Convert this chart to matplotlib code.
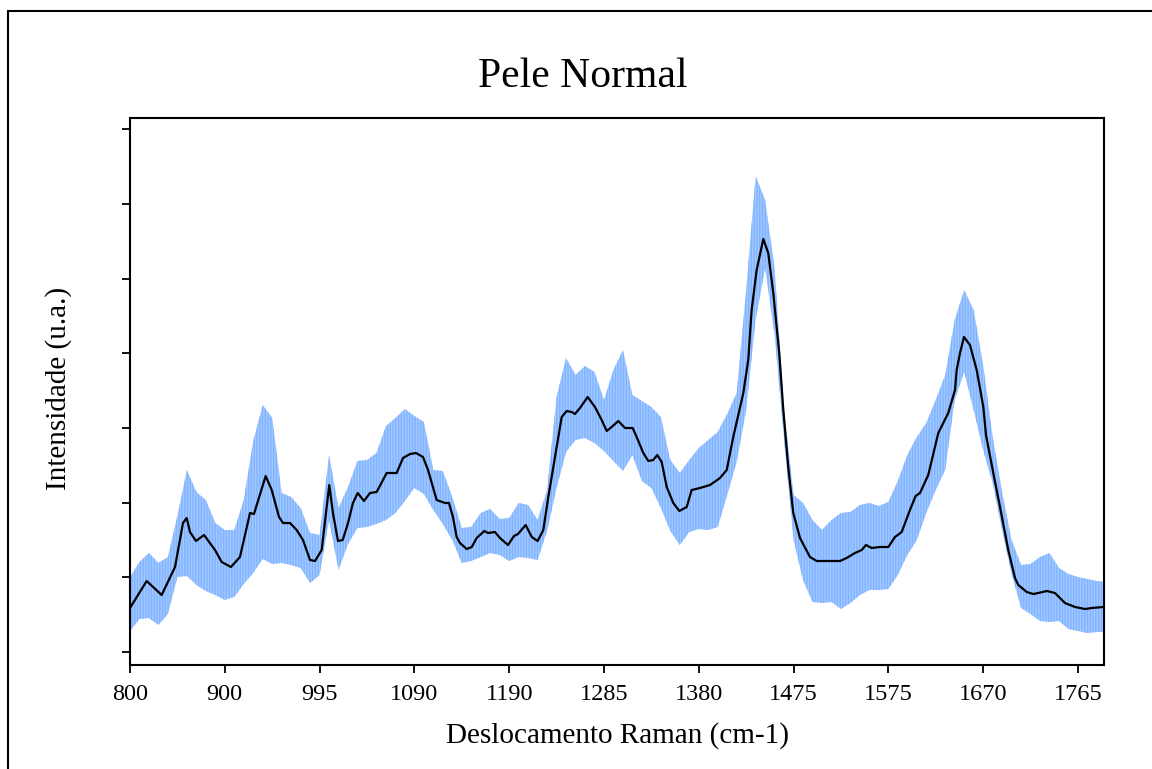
import numpy as np
import matplotlib
matplotlib.use("Agg")
from matplotlib import pyplot as plt
from matplotlib.patches import Rectangle

plt.rcParams["font.family"] = ["Liberation Serif", "DejaVu Serif"]
plt.rcParams["hatch.linewidth"] = 1.0

# x is the spectrum position along the axis; labels are the Raman shifts printed under the ticks
tick_pos = [800, 900, 1000, 1100, 1200, 1300, 1400, 1500, 1600, 1700, 1800]
tick_labels = ["800", "900", "995", "1090", "1190", "1285", "1380", "1475", "1575", "1670", "1765"]

# mean spectrum (black line)
mean_pos = [800, 817.6, 833.4, 847.5, 855.9, 859.8, 863.3, 869.6, 878.1, 889.7,
            896.7, 906.5, 916, 926.6, 930.8, 943.1, 949.5, 957.2, 961.4, 968.8,
            975.8, 982.5, 989.9, 995.2, 1002.2, 1007.5, 1010.2, 1014.1, 1019.4, 1024.4,
            1030, 1035.2, 1040.2, 1046.8, 1053.2, 1060.2, 1070.8, 1081.3, 1088, 1095.4,
            1101.7, 1109.1, 1114.4, 1123.5, 1132.3, 1136.5, 1140.7, 1144.6, 1148.1, 1155.2,
            1160.5, 1165.7, 1173.8, 1177.7, 1185, 1190.3, 1198.8, 1205.1, 1209.3, 1217.4,
            1223.8, 1230.1, 1236, 1241.3, 1248.3, 1255.4, 1260.7, 1266, 1269.4, 1274.7,
            1282.8, 1290.5, 1297.6, 1302.9, 1308.1, 1315.1, 1322.2, 1330.3, 1334.5, 1341.5,
            1346.8, 1352, 1356.2, 1360.9, 1366.2, 1373.1, 1379.5, 1387.3, 1392.5, 1401.3,
            1411.9, 1422.4, 1429.5, 1436.4, 1447, 1452.2, 1455.8, 1461.1, 1468.1, 1473.3,
            1478.6, 1484.9, 1489.2, 1494.4, 1499.7, 1506.8, 1517.3, 1524.4, 1549, 1556,
            1564.8, 1571.9, 1576.4, 1582.4, 1591.2, 1600, 1607, 1614.1, 1622.8, 1628.8,
            1633.4, 1642.1, 1652.7, 1663.2, 1670.3, 1672.1, 1675.6, 1679.8, 1686.1, 1693.2,
            1700.2, 1703, 1710.7, 1717.8, 1726.5, 1733.6, 1737.1, 1746, 1752.9, 1758.2,
            1767.1, 1775.8, 1786.3, 1796.9, 1807.4, 1814.5, 1827]
mean_int = [44, 71, 57, 85, 129, 134, 120, 111, 117, 102,
            90, 85, 95, 139, 138, 176, 162, 135, 129, 129,
            122, 112, 92, 91, 102, 145, 167, 139, 111, 112,
            129, 149, 159, 151, 159, 160, 179, 179, 194, 198,
            199, 195, 182, 152, 149, 149, 135, 115, 109, 103,
            105, 114, 121, 119, 120, 114, 107, 116, 118, 127,
            115, 111, 122, 155, 195, 235, 241, 240, 238, 244,
            255, 245, 232, 221, 225, 231, 224, 224, 215, 199,
            191, 192, 197, 190, 165, 149, 141, 145, 162, 164,
            167, 174, 182, 215, 259, 292, 342, 382, 413, 399,
            359, 299, 242, 185, 139, 114, 95, 91, 91, 94,
            99, 102, 107, 104, 105, 105, 115, 120, 142, 156,
            159, 177, 219, 239, 262, 282, 299, 315, 307, 282,
            245, 217, 179, 145, 102, 74, 67, 60, 58, 59,
            61, 59, 49, 45, 43, 44, 45]

# spread of the individual spectra (blue band)
band_pos = np.arange(800, 1831, 10)
band_hi = [75, 90, 99, 89, 95, 136, 182, 160, 152, 129,
           122, 122, 152, 211, 247, 234, 159, 155, 144, 119,
           117, 197, 144, 165, 191, 192, 199, 226, 234, 243,
           236, 230, 182, 181, 155, 124, 125, 139, 143, 133,
           134, 149, 147, 132, 162, 255, 294, 277, 286, 280,
           252, 282, 302, 257, 251, 245, 235, 192, 179, 192,
           204, 212, 220, 238, 259, 362, 476, 452, 384, 242,
           157, 149, 132, 122, 132, 139, 140, 147, 149, 146,
           150, 171, 197, 215, 229, 252, 277, 332, 362, 342,
           287, 215, 160, 112, 87, 88, 95, 99, 84, 78,
           75, 73, 71, 70]
band_lo = [21, 33, 34, 27, 38, 75, 76, 67, 61, 57,
           52, 55, 68, 79, 93, 88, 89, 87, 84, 69,
           77, 132, 82, 108, 124, 125, 128, 132, 139, 151,
           164, 158, 142, 128, 112, 89, 91, 95, 99, 97,
           91, 95, 94, 92, 121, 164, 200, 212, 214, 209,
           201, 191, 181, 197, 171, 164, 144, 121, 107, 120,
           123, 122, 125, 157, 190, 242, 332, 384, 317, 212,
           112, 72, 50, 49, 50, 43, 49, 57, 62, 62,
           63, 77, 97, 112, 139, 162, 182, 252, 280, 242,
           202, 169, 122, 78, 44, 38, 31, 30, 31, 23,
           21, 19, 20, 20]

fig = plt.figure(figsize=(11.52, 7.69), dpi=100)
ax = fig.add_axes([130 / 1152, 1 - 665 / 769, 974 / 1152, 547 / 769])

ax.fill_between(band_pos, band_lo, band_hi, facecolor="#a3c9ff",
                edgecolor="#80b3ff", hatch="||||||", linewidth=0)
ax.plot(mean_pos, mean_int, color="black", linewidth=1.6)

ax.set_xlim(800, 1827.5)
ax.set_ylim(-13, 534)
ax.set_xticks(tick_pos)
ax.set_xticklabels(tick_labels)
ax.set_yticks(np.arange(8) * 74.7)
ax.set_yticklabels([])

ax.tick_params(axis="x", direction="out", length=6, width=1.3, labelsize=17.5, pad=8)
ax.tick_params(axis="y", direction="out", length=6, width=1.3)
for s in ax.spines.values():
    s.set_linewidth(1.5)

ax.set_xlabel("Deslocamento Raman (cm-1)", fontsize=21, labelpad=12)
ax.set_ylabel("Intensidade (u.a.)", fontsize=21)
ax.yaxis.set_label_coords(-0.06, 0.505)

fig.text(583 / 1152, 1 - 77 / 769, "Pele Normal", fontsize=30, ha="center", va="center")

# outer frame around the figure
fig.patches.append(Rectangle((8 / 1152, -0.1), 1.2, 1.1 - 11 / 769, transform=fig.transFigure,
                             fill=False, edgecolor="black", linewidth=1.5))

fig.savefig("out.png", dpi=100)
